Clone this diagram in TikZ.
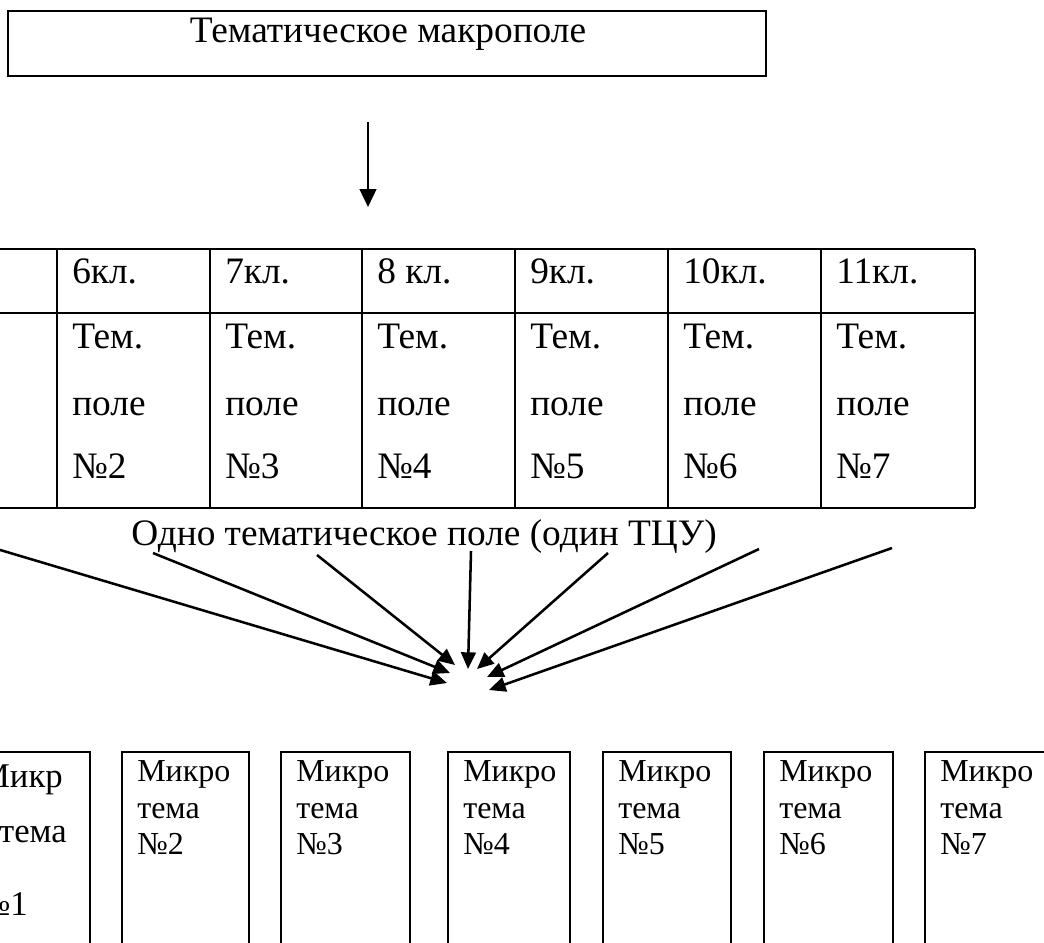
\documentclass[tikz,border=0pt]{standalone}
\usepackage{fontspec}
\setmainfont{Liberation Serif}
\usetikzlibrary{arrows.meta}

\tikzset{
  frame/.style={line width=1.8pt},
  txt/.style={inner sep=0pt, font=\fontsize{28}{34}\selectfont},
  midtxt/.style={inner sep=0pt, font=\fontsize{26}{31}\selectfont},
  smalltxt/.style={inner sep=0pt, font=\fontsize{24}{29}\selectfont},
  conv/.style={line width=1.9pt, -{Triangle[length=12.5pt,width=11pt]}},
}

\begin{document}
\begin{tikzpicture}[x=0.75pt,y=0.75pt,yscale=-1,xscale=1]
\useasboundingbox (0,0) rectangle (1044,942);
\clip (0,0) rectangle (1044,942);

%Title box
\draw [frame] (8,11) rectangle (766,76);
\draw (388,43) node [txt, anchor=base] (macro) {Тематическое макрополе};

%Arrow down to the table
\coordinate (down1) at (368,122);
\coordinate (down2) at (368,207);
\draw [line width=1.9pt, -{Triangle[length=13.5pt,width=12.5pt]}] (down1) -- (down2);

%Table grid
\draw [frame] (-10,249) -- (975,249);
\draw [frame] (-10,313) -- (975,313);
\draw [frame] (-10,508) -- (975,508);
\foreach \x in {57,210,362,515,668,821,975}
  \draw [frame] (\x,249) -- (\x,508);

% Header row
\foreach \x/\k/\lbl in {57/6/6кл., 210/7/7кл., 362/8/8 кл., 515/9/9кл., 668/10/10кл., 821/11/11кл.}
  \draw (\x+15,283) node [txt, anchor=base west] (cls\k) {\lbl};

% Field cells
\foreach \x/\n in {57/2,210/3,362/4,515/5,668/6,821/7} {
  \draw (\x+15,348) node [txt, anchor=base west] (tem\n) {Тем.};
  \draw (\x+15,415) node [txt, anchor=base west] (pole\n) {поле};
  \draw (\x+15,478) node [txt, anchor=base west] (num\n) {№\n};
}

%Caption
\draw (424,545) node [txt, anchor=base] (field) {Одно тематическое поле (один ТЦУ)};

%Converging arrows
\coordinate (s1) at (-30,541);
\coordinate (s2) at (153,553);
\coordinate (s3) at (317,555);
\coordinate (s4) at (471,551);
\coordinate (s5) at (608,553);
\coordinate (s6) at (759,549);
\coordinate (s7) at (892,548);
\coordinate (t1) at (447,683);
\coordinate (t2) at (450,673);
\coordinate (t3) at (455,665);
\coordinate (t4) at (468,669);
\coordinate (t5) at (477,669);
\coordinate (t6) at (487,677);
\coordinate (t7) at (489,690);
\foreach \i in {1,...,7}
  \draw [conv] (s\i) -- (t\i);

%Micro topics
\draw [frame] (-37,752) rectangle (90,960);
\draw (63,787) node [midtxt, anchor=base east] (mk1a) {Микр};
\draw (67,842) node [midtxt, anchor=base east] (mk1b) {тема};
\draw (28,915) node [midtxt, anchor=base east] (mk1c) {№1};

\foreach \x/\w/\n in {122/127/2, 281/129/3, 448/122/4, 603/128/5, 764/129/6, 925/129/7} {
  \draw [frame] (\x,752) rectangle (\x+\w,960);
  \draw (\x+15,781) node [smalltxt, anchor=base west] (mikro\n) {Микро};
  \draw (\x+15,818) node [smalltxt, anchor=base west] (tema\n) {тема};
  \draw (\x+15,854) node [smalltxt, anchor=base west] (mnum\n) {№\n};
}

\end{tikzpicture}
\end{document}
